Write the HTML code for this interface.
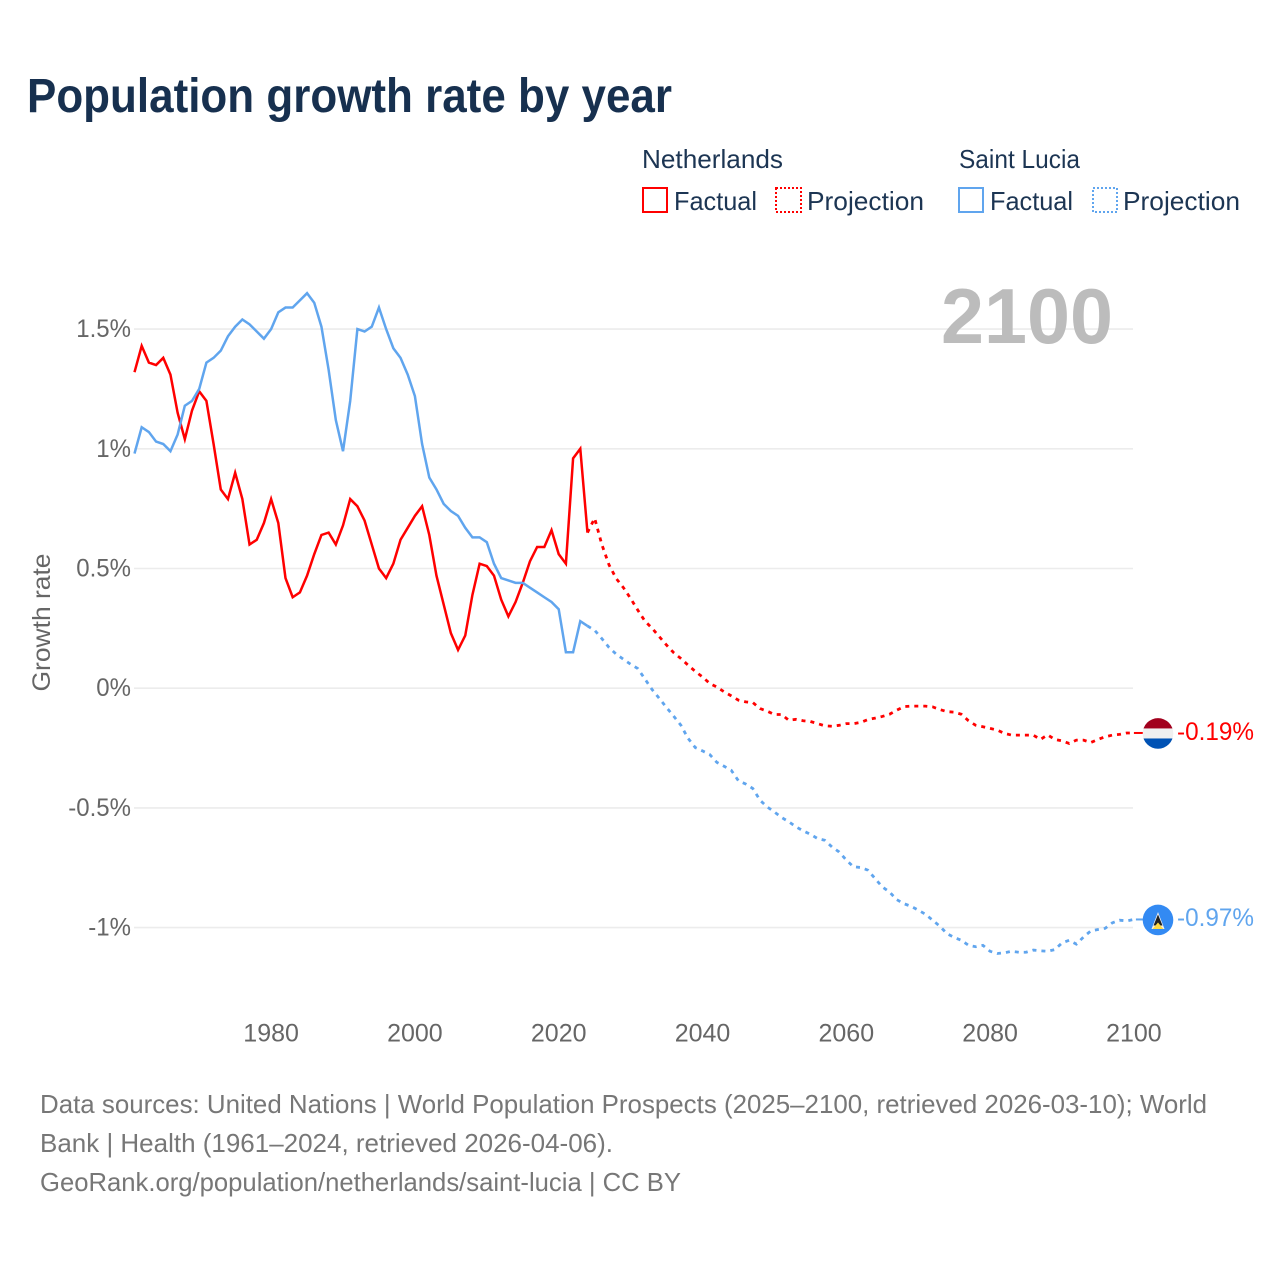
<!DOCTYPE html>
<html lang="en">
<head>
<meta charset="utf-8">
<title>Population growth rate by year</title>
<style>
html,body{margin:0;padding:0;background:#fff;width:1280px;height:1280px;overflow:hidden}
svg{display:block;font-family:"Liberation Sans",sans-serif}
</style>
</head>
<body>
<svg id="chart" xmlns="http://www.w3.org/2000/svg" width="1280" height="1280" viewBox="0 0 1280 1280">
  <text x="27" y="112" font-size="48" font-weight="700" fill="#17304f" textLength="645" lengthAdjust="spacingAndGlyphs">Population growth rate by year</text>

  <g font-size="26" fill="#1c3553">
    <text x="642" y="168" textLength="141" lengthAdjust="spacingAndGlyphs">Netherlands</text>
    <text x="959" y="168" textLength="121" lengthAdjust="spacingAndGlyphs">Saint Lucia</text>
    <rect x="643" y="188" width="24" height="24" fill="none" stroke="#ff0000" stroke-width="2"/>
    <text x="674" y="210" textLength="83" lengthAdjust="spacingAndGlyphs">Factual</text>
    <rect x="776" y="188" width="25" height="24" fill="none" stroke="#ff0000" stroke-width="2" stroke-dasharray="2 2"/>
    <text x="807" y="210" textLength="117" lengthAdjust="spacingAndGlyphs">Projection</text>
    <rect x="959" y="188" width="24" height="24" fill="none" stroke="#60a5ee" stroke-width="2"/>
    <text x="990" y="210" textLength="83" lengthAdjust="spacingAndGlyphs">Factual</text>
    <rect x="1093" y="188" width="24" height="24" fill="none" stroke="#60a5ee" stroke-width="2" stroke-dasharray="2 2"/>
    <text x="1123" y="210" textLength="117" lengthAdjust="spacingAndGlyphs">Projection</text>
  </g>

  <g id="grid"></g>
  <text x="941" y="343" font-size="78" font-weight="700" fill="#bcbcbc" textLength="172" lengthAdjust="spacingAndGlyphs">2100</text>
  <g id="yTicksGroup"></g>
  <g id="xTicksGroup"></g>
  <text transform="translate(50 622.5) rotate(-90)" text-anchor="middle" font-size="25" fill="#666666" textLength="138" lengthAdjust="spacingAndGlyphs">Growth rate</text>
  <g id="series"></g>
  <g id="endMarkers"></g>

  <g font-size="26" fill="#777777">
    <text x="40" y="1113" textLength="1167" lengthAdjust="spacingAndGlyphs">Data sources: United Nations | World Population Prospects (2025–2100, retrieved 2026-03-10); World</text>
    <text x="40" y="1152" textLength="573" lengthAdjust="spacingAndGlyphs">Bank | Health (1961–2024, retrieved 2026-04-06).</text>
    <text x="40" y="1191" textLength="641" lengthAdjust="spacingAndGlyphs">GeoRank.org/population/netherlands/saint-lucia | CC BY</text>
  </g>
</svg>
<script>
const xTickValues = [1980, 2000, 2020, 2040, 2060, 2080, 2100];
const yTickValues = [1.5, 1, 0.5, 0, -0.5, -1];
const factualStartYear = 1961;
const projectionStartYear = 2024;

const netherlandsFactual = [1.32,1.43,1.36,1.35,1.38,1.31,1.15,1.04,1.16,1.24,1.20,1.02,0.83,0.79,0.90,0.79,0.60,0.62,0.69,0.79,0.69,0.46,0.38,0.40,0.47,0.56,0.64,0.65,0.60,0.68,0.79,0.76,0.70,0.60,0.50,0.46,0.52,0.62,0.67,0.72,0.76,0.64,0.47,0.35,0.23,0.16,0.22,0.39,0.52,0.51,0.47,0.37,0.30,0.36,0.44,0.53,0.59,0.59,0.66,0.56,0.52,0.96,1.00,0.65];
const saintLuciaFactual = [0.98,1.09,1.07,1.03,1.02,0.99,1.06,1.18,1.20,1.25,1.36,1.38,1.41,1.47,1.51,1.54,1.52,1.49,1.46,1.50,1.57,1.59,1.59,1.62,1.65,1.61,1.51,1.33,1.12,0.99,1.20,1.50,1.49,1.51,1.59,1.50,1.42,1.38,1.31,1.22,1.02,0.88,0.83,0.77,0.74,0.72,0.67,0.63,0.63,0.61,0.52,0.46,0.45,0.44,0.44,0.42,0.40,0.38,0.36,0.33,0.15,0.15,0.28,0.26];
const netherlandsProjection = [0.65,0.71,0.60,0.515,0.458,0.42,0.375,0.326,0.28,0.25,0.215,0.18,0.148,0.124,0.096,0.07,0.047,0.02,0.005,-0.015,-0.032,-0.05,-0.057,-0.06,-0.085,-0.096,-0.11,-0.11,-0.134,-0.13,-0.136,-0.139,-0.148,-0.157,-0.159,-0.155,-0.148,-0.148,-0.143,-0.131,-0.125,-0.118,-0.109,-0.092,-0.077,-0.075,-0.075,-0.075,-0.078,-0.089,-0.098,-0.10,-0.109,-0.136,-0.155,-0.161,-0.168,-0.175,-0.189,-0.196,-0.196,-0.196,-0.196,-0.214,-0.195,-0.214,-0.22,-0.231,-0.217,-0.217,-0.227,-0.214,-0.203,-0.196,-0.193,-0.187,-0.187];
const saintLuciaProjection = [0.26,0.242,0.207,0.17,0.142,0.121,0.10,0.082,0.038,-0.006,-0.043,-0.081,-0.117,-0.155,-0.21,-0.248,-0.262,-0.277,-0.31,-0.326,-0.343,-0.387,-0.40,-0.419,-0.468,-0.496,-0.517,-0.54,-0.558,-0.579,-0.596,-0.61,-0.628,-0.635,-0.663,-0.684,-0.718,-0.746,-0.749,-0.76,-0.795,-0.83,-0.851,-0.883,-0.90,-0.911,-0.927,-0.944,-0.969,-0.994,-1.025,-1.041,-1.053,-1.074,-1.08,-1.074,-1.099,-1.108,-1.105,-1.099,-1.103,-1.103,-1.094,-1.097,-1.099,-1.092,-1.064,-1.053,-1.069,-1.039,-1.014,-1.008,-1.003,-0.98,-0.969,-0.972,-0.966];

const NS = 'http://www.w3.org/2000/svg';
const RED = '#ff0000';
const BLUE = '#60a5ee';
function xScale(year) { return 134.5 + (year - 1961) * 7.19; }
function yScale(value) { return 688.2 - value * 239.4; }
function make(tag, attrs, parent) {
  const el = document.createElementNS(NS, tag);
  for (const k in attrs) el.setAttribute(k, attrs[k]);
  parent.appendChild(el);
  return el;
}
function seriesPath(values, startYear) {
  return values.map(function (v, i) {
    return (i ? 'L' : 'M') + xScale(startYear + i).toFixed(2) + ' ' + yScale(v).toFixed(2);
  }).join(' ');
}
function squeeze(el, ratio) {
  el.setAttribute('textLength', (el.getComputedTextLength() * ratio).toFixed(1));
  el.setAttribute('lengthAdjust', 'spacingAndGlyphs');
}

const gridGroup = document.getElementById('grid');
const yGroup = document.getElementById('yTicksGroup');
yTickValues.forEach(function (v) {
  const line = make('line', { x1: 134, x2: 1133, y1: yScale(v), y2: yScale(v), stroke: '#ececec', 'stroke-width': 1.6 }, gridGroup);
  
  
  const label = make('text', { x: 131, y: yScale(v) + 8, 'text-anchor': 'end', 'font-size': 25, fill: '#666666' }, yGroup);
  
  
  label.textContent = v + '%';
  squeeze(label, 0.96);
});

const xGroup = document.getElementById('xTicksGroup');
xTickValues.forEach(function (year) {
  const label = make('text', { x: xScale(year), y: 1041.5, 'text-anchor': 'middle', 'font-size': 25, fill: '#666666' }, xGroup);
  
  
  label.textContent = year;
  squeeze(label, 1);
});

const seriesGroup = document.getElementById('series');
const nlFactualLine = make('path', { d: seriesPath(netherlandsFactual, factualStartYear), fill: 'none', stroke: RED, 'stroke-width': 2.5, 'stroke-linejoin': 'miter' }, seriesGroup);


const slFactualLine = make('path', { d: seriesPath(saintLuciaFactual, factualStartYear), fill: 'none', stroke: BLUE, 'stroke-width': 2.5, 'stroke-linejoin': 'miter' }, seriesGroup);


const nlProjectionLine = make('path', { d: seriesPath(netherlandsProjection, projectionStartYear), fill: 'none', stroke: RED, 'stroke-width': 2.8, 'stroke-dasharray': '4 5' }, seriesGroup);


const slProjectionLine = make('path', { d: seriesPath(saintLuciaProjection, projectionStartYear), fill: 'none', stroke: BLUE, 'stroke-width': 2.8, 'stroke-dasharray': '4 5' }, seriesGroup);



const markers = document.getElementById('endMarkers');
const defs = make('defs', {}, markers);
const nlLast = netherlandsProjection[netherlandsProjection.length - 1];
const slLast = saintLuciaProjection[saintLuciaProjection.length - 1];
const endX = xScale(2100);
const flagX = 1158;
const nlY = yScale(nlLast);
const slY = yScale(slLast);

const nlLeader = make('line', { x1: endX, x2: flagX - 15, y1: nlY, y2: nlY, stroke: RED, 'stroke-width': 2 }, markers);


const slLeader = make('line', { x1: endX + 2, x2: flagX - 15, y1: slY, y2: slY, stroke: BLUE, 'stroke-width': 2 }, markers);



const clip = make('clipPath', { id: 'nlClip' }, defs);
make('circle', { cx: flagX, cy: nlY + 0.5, r: 15.3 }, clip);
const nlFlag = make('g', { 'clip-path': 'url(#nlClip)' }, markers);


make('rect', { x: flagX - 16, y: nlY - 15, width: 32, height: 10.5, fill: '#a2001d' }, nlFlag);
make('rect', { x: flagX - 16, y: nlY - 4.5, width: 32, height: 10, fill: '#f0f0f0' }, nlFlag);
make('rect', { x: flagX - 16, y: nlY + 5.5, width: 32, height: 11, fill: '#0052b4' }, nlFlag);

const slFlag = make('g', {}, markers);


make('circle', { cx: flagX, cy: slY + 0.5, r: 15.3, fill: '#338af3' }, slFlag);
make('path', { d: 'M' + flagX + ' ' + (slY - 7.5) + ' l6.5 17 h-13 z', fill: '#f0f0f0' }, slFlag);
make('path', { d: 'M' + flagX + ' ' + (slY - 5) + ' l4.5 11 h-9 z', fill: '#222222' }, slFlag);
make('path', { d: 'M' + flagX + ' ' + (slY + 3) + ' l5.5 6.5 h-11 z', fill: '#ffda44' }, slFlag);

const nlLabel = make('text', { x: 1177, y: nlY + 7, 'font-size': 25, fill: RED, textLength: 77, lengthAdjust: 'spacingAndGlyphs' }, markers);


nlLabel.textContent = nlLast.toFixed(2) + '%';
const slLabel = make('text', { x: 1177, y: slY + 6.5, 'font-size': 25, fill: BLUE, textLength: 77, lengthAdjust: 'spacingAndGlyphs' }, markers);


slLabel.textContent = slLast.toFixed(2) + '%';
</script>
</body>
</html>
